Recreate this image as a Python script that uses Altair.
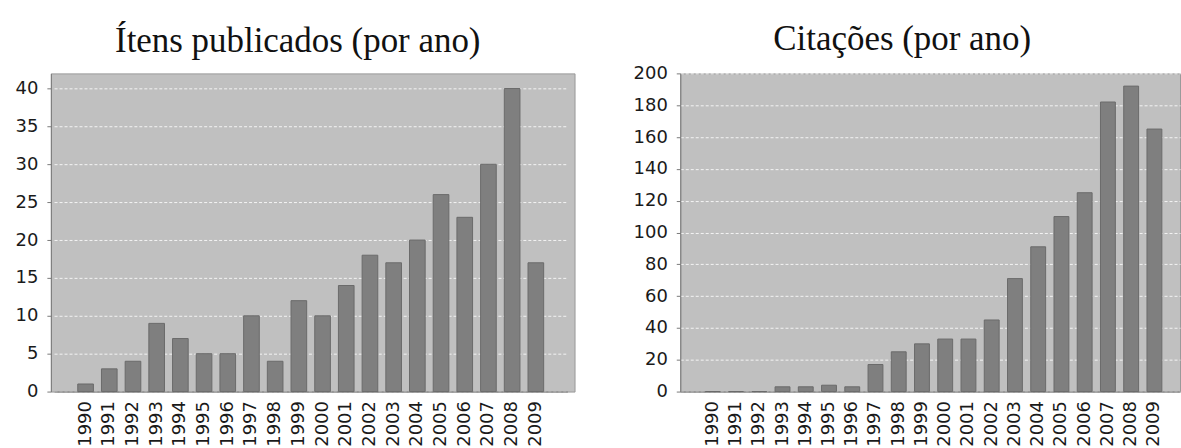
import altair as alt
import pandas as pd

# Years shown on both charts
anos = [str(a) for a in range(1990, 2010)]

# Published items per year
itens = [1, 3, 4, 9, 7, 5, 5, 10, 4, 12, 10, 14, 18, 17, 20, 26, 23, 30, 40, 17]

# Citations per year
citacoes = [0, 0, 0, 3, 3, 4, 3, 17, 25, 30, 33, 33, 45, 71, 91, 110, 125, 182, 192, 165]

df_itens = pd.DataFrame({"ano": anos, "valor": itens})
df_cit = pd.DataFrame({"ano": anos, "valor": citacoes})

BAR_FILL = "#7f7f7f"
BAR_EDGE = "#6a6a6a"
LABEL_FONT = "DejaVu Sans"
AXIS_GRAY = "#7a7a7a"


def painel(df, titulo, dominio, passos, largura, x_scale, desloc_x, desloc_y):
    x = alt.X(
        "ano:N",
        sort=anos,
        scale=x_scale,
        axis=alt.Axis(
            title=None,
            labelAngle=-90,
            ticks=False,
            labelPadding=9,
            labelFont=LABEL_FONT,
            labelFontSize=18,
            labelColor="#1a1a1a",
            domainColor=AXIS_GRAY,
            labelOverlap=False,
            grid=False,
        ),
    )
    y = alt.Y(
        "valor:Q",
        scale=alt.Scale(domain=dominio, nice=False),
        axis=alt.Axis(
            title=None,
            values=passos,
            tickSize=4,
            tickColor=AXIS_GRAY,
            labelPadding=9,
            labelFont=LABEL_FONT,
            labelFontSize=18,
            labelColor="#1a1a1a",
            domainColor=AXIS_GRAY,
            grid=True,
            gridColor="#f4f4f4",
            gridDash=[3, 2],
            gridWidth=1,
        ),
    )
    return (
        alt.Chart(df)
        .mark_bar(color=BAR_FILL, stroke=BAR_EDGE, strokeWidth=1)
        .encode(x=x, y=y)
        .properties(
            width=largura,
            height=319,
            title=alt.TitleParams(
                titulo,
                font="Liberation Serif",
                fontSize=35,
                fontWeight="normal",
                color="#111111",
                anchor="middle",
                frame="group",
                offset=14,
                dx=desloc_x,
                dy=desloc_y,
            ),
        )
    )


esquerdo = painel(
    df_itens,
    "Ítens publicados (por ano)",
    [0, 42],
    list(range(0, 41, 5)),
    525,
    alt.Scale(paddingInner=0.34, paddingOuter=1, range=[3.2, 517.8]),
    -15,
    0,
)

direito = painel(
    df_cit,
    "Citações (por ano)",
    [0, 200],
    list(range(0, 201, 20)),
    501,
    alt.Scale(paddingInner=0.36, paddingOuter=0.93, align=0.58),
    -28,
    7,
)

chart = (
    alt.hconcat(esquerdo, direito, spacing=57)
    .properties(
        padding={"left": 14, "top": 21, "right": 0, "bottom": 0},
        background="white",
    )
    .configure_view(fill="#c0c0c0", stroke="#9a9a9a", strokeWidth=1)
)

chart.save("out.html", embed_options={"renderer": "svg", "actions": False})
